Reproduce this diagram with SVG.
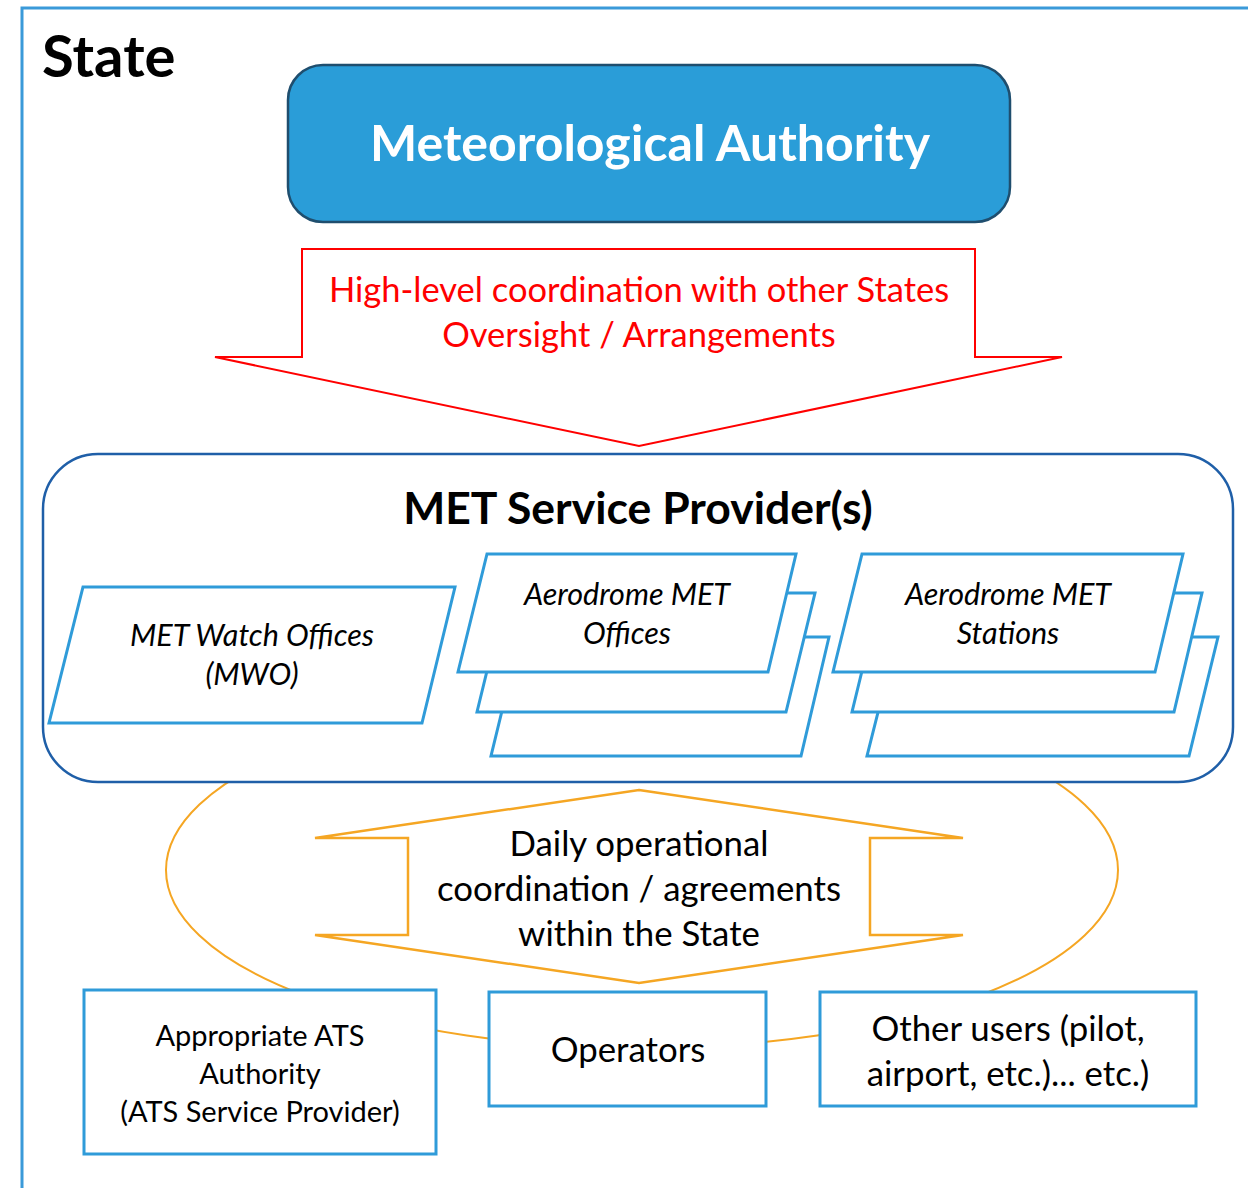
<svg xmlns="http://www.w3.org/2000/svg" width="1248" height="1188" viewBox="0 0 1248 1188">
<style>
text { font-family: Lato, "Open Sans", "Liberation Sans", sans-serif; text-anchor: middle; }
.para { fill: #ffffff; stroke: #2f9bd9; stroke-width: 3; }
.box { fill: #ffffff; stroke: #2f9bd9; stroke-width: 3; }
.it { font-style: italic; font-size: 30.5px; fill: #000; }
.blk { font-size: 34.8px; fill: #000; }
.sm { font-size: 29px; fill: #000; }
</style>
<rect width="1248" height="1188" fill="#ffffff"/>
<g id="state-frame">
<path d="M22,1188 V8 H1248" fill="none" stroke="#3a9ad9" stroke-width="3"/>
<text x="42" y="77" style="text-anchor:start;font-weight:bold;font-size:58px" fill="#000">State</text>
</g>
<g id="connectors">
<ellipse cx="642" cy="870" rx="476" ry="178" fill="none" stroke="#f5a623" stroke-width="2"/>
</g>
<g id="met-authority">
<rect x="288" y="65" width="722" height="157" rx="35" fill="#2a9dd8" stroke="#1f4e6e" stroke-width="2.5"/>
<text x="650" y="161" style="font-weight:bold;font-size:50px" fill="#ffffff">Meteorological Authority</text>
</g>
<g id="high-level-arrow">
<polygon points="302,249 975,249 975,357 1062,357 639,446 215,357 302,357" fill="#ffffff" stroke="#ff0000" stroke-width="2"/>
<text x="639" y="302" style="font-size:34.5px" fill="#ff0000">High-level coordination with other States</text>
<text x="639" y="347" style="font-size:34.5px" fill="#ff0000">Oversight / Arrangements</text>
</g>
<g id="met-service-provider">
<rect x="43" y="454" width="1190" height="328" rx="55" fill="#ffffff" stroke="#1f5fa8" stroke-width="2.5"/>
<text x="638" y="524" style="font-weight:bold;font-size:44.5px" fill="#000">MET Service Provider(s)</text>
</g>
<g id="mwo">
<polygon class="para" points="83,587 455,587 422,723 49,723"/>
<text class="it" x="252" y="646">MET Watch Offices</text>
<text class="it" x="252" y="685">(MWO)</text>
</g>
<g id="aerodrome-met-offices">
<polygon class="para" points="520,637 829,637 801,756 491,756"/>
<polygon class="para" points="506,593 815,593 786,712 477,712"/>
<polygon class="para" points="487,554 796,554 768,672 458,672"/>
<text class="it" x="627" y="605">Aerodrome MET</text>
<text class="it" x="627" y="644">Offices</text>
</g>
<g id="aerodrome-met-stations">
<polygon class="para" points="897,637 1218,637 1189,756 867,756"/>
<polygon class="para" points="881,593 1202,593 1174,712 852,712"/>
<polygon class="para" points="862,554 1183,554 1155,672 833,672"/>
<text class="it" x="1008" y="605">Aerodrome MET</text>
<text class="it" x="1008" y="644">Stations</text>
</g>
<g id="daily-coordination">
<polygon points="639,790 963,838 870,838 870,935 963,935 639,983 315,935 408,935 408,838 315,838" fill="#ffffff" stroke="#f5a623" stroke-width="2.5"/>
<text class="blk" x="639" y="856">Daily operational</text>
<text class="blk" x="639" y="901">coordination / agreements</text>
<text class="blk" x="639" y="946">within the State</text>
</g>
<g id="ats-authority">
<rect class="box" x="84" y="990" width="352" height="164"/>
<text class="sm" x="260" y="1046">Appropriate ATS</text>
<text class="sm" x="260" y="1084">Authority</text>
<text class="sm" x="260" y="1122">(ATS Service Provider)</text>
</g>
<g id="operators">
<rect class="box" x="489" y="992" width="277" height="114"/>
<text class="blk" x="628" y="1062">Operators</text>
</g>
<g id="other-users">
<rect class="box" x="820" y="992" width="376" height="114"/>
<text class="blk" x="1008" y="1041">Other users (pilot,</text>
<text class="blk" x="1008" y="1086">airport, etc.)... etc.)</text>
</g>
</svg>
